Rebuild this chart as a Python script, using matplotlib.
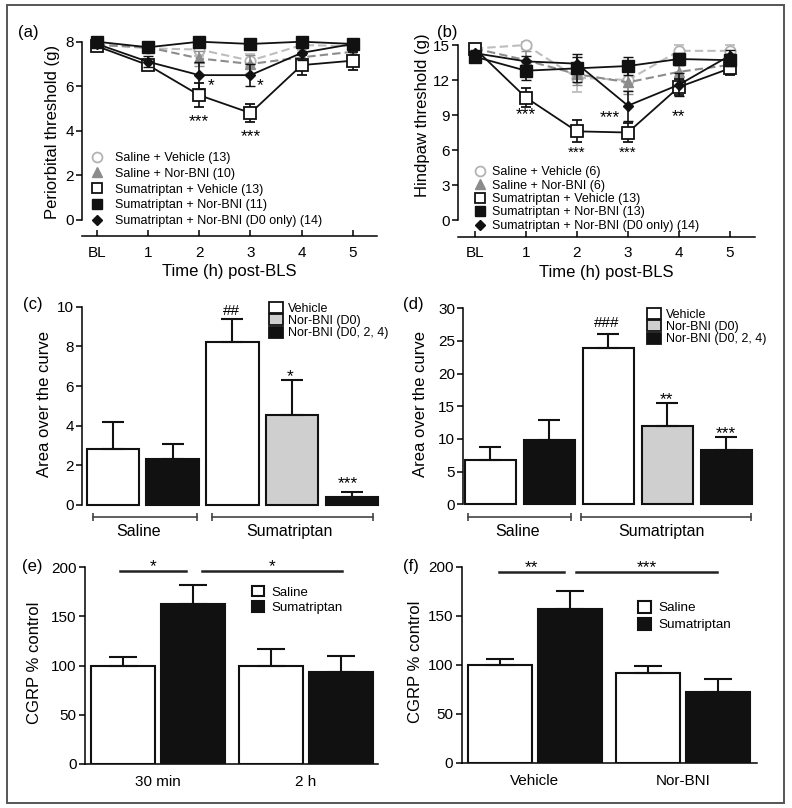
import matplotlib
matplotlib.use('Agg')
import matplotlib.pyplot as plt
from matplotlib.lines import Line2D
from matplotlib.patches import Patch, Rectangle

plt.rcParams['font.family'] = ['Liberation Sans', 'DejaVu Sans']
plt.rcParams['axes.linewidth'] = 1.1

W, H = 792, 808

# ---------------- data ----------------
time_labels = ['BL', '1', '2', '3', '4', '5']
time_x = [0, 1, 2, 3, 4, 5]

a_labels = ['Saline + Vehicle (13)', 'Saline + Nor-BNI (10)', 'Sumatriptan + Vehicle (13)',
            'Sumatriptan + Nor-BNI (11)', 'Sumatriptan + Nor-BNI (D0 only) (14)']
a_sal_veh = [7.9, 7.7, 7.65, 7.15, 7.85, 7.8]
a_sal_veh_err = [0.1, 0.15, 0.3, 0.3, 0.2, 0.2]
a_sal_nor = [7.85, 7.75, 7.25, 7.0, 7.3, 7.55]
a_sal_nor_err = [0.1, 0.2, 0.35, 0.4, 0.25, 0.2]
a_sum_veh = [7.8, 6.95, 5.6, 4.8, 6.95, 7.15]
a_sum_veh_err = [0.15, 0.2, 0.55, 0.4, 0.45, 0.4]
a_sum_nor = [8.0, 7.75, 8.0, 7.9, 8.0, 7.9]
a_sum_nor_err = [0.1, 0.2, 0.1, 0.15, 0.1, 0.15]
a_sum_d0 = [7.9, 7.1, 6.5, 6.5, 7.5, 7.9]
a_sum_d0_err = [0.1, 0.25, 0.6, 0.5, 0.3, 0.2]

b_labels = ['Saline + Vehicle (6)', 'Saline + Nor-BNI (6)', 'Sumatriptan + Vehicle (13)',
            'Sumatriptan + Nor-BNI (13)', 'Sumatriptan + Nor-BNI (D0 only) (14)']
b_sal_veh = [14.7, 15.0, 12.2, 12.0, 14.5, 14.5]
b_sal_veh_err = [0.3, 0.3, 1.2, 0.9, 0.5, 0.5]
b_sal_nor = [14.7, 13.7, 12.5, 11.8, 12.7, 13.3]
b_sal_nor_err = [0.3, 0.8, 0.9, 1.0, 0.6, 0.5]
b_sum_veh = [14.7, 10.5, 7.6, 7.5, 11.4, 13.0]
b_sum_veh_err = [0.3, 0.8, 0.95, 0.8, 0.7, 0.6]
b_sum_nor = [14.0, 12.8, 13.0, 13.2, 13.8, 13.7]
b_sum_nor_err = [0.4, 0.8, 1.2, 0.8, 0.5, 0.5]
b_sum_d0 = [14.3, 13.6, 13.4, 9.8, 11.6, 14.1]
b_sum_d0_err = [0.3, 0.5, 0.6, 1.3, 1.0, 0.5]

aoc_legend = ['Vehicle', 'Nor-BNI (D0)', 'Nor-BNI (D0, 2, 4)']
aoc_groups = ['Saline', 'Sumatriptan']
c_vals = [2.8, 2.3, 8.2, 4.55, 0.42]
c_err = [1.4, 0.8, 1.2, 1.75, 0.23]
d_vals = [6.8, 9.85, 24.0, 12.0, 8.3]
d_err = [1.9, 3.05, 2.0, 3.5, 2.0]

cgrp_legend = ['Saline', 'Sumatriptan']
e_groups = ['30 min', '2 h']
e_saline = [100, 100]
e_saline_err = [8.6, 17]
e_suma = [163, 93]
e_suma_err = [18.7, 16.7]

f_groups = ['Vehicle', 'Nor-BNI']
f_saline = [100, 91.3]
f_saline_err = [5.6, 7.2]
f_suma = [157, 72.3]
f_suma_err = [18, 13.3]

# ---------------- helpers ----------------
fig = plt.figure(figsize=(W / 100, H / 100), dpi=100)
fig.patches.append(Rectangle((7 / W, 1 - 803 / H), 777 / W, 798 / H, transform=fig.transFigure,
                             fill=False, edgecolor='#555555', lw=1.4))


def box(l, r, t, b):
    return [l / W, 1 - b / H, (r - l) / W, (b - t) / H]


def fig_anchor(x, y):
    return (x / W, 1 - y / H)


def mark(ax, x, y, s, fs=12.5, dy=-2.5):
    if '#' in s:
        ax.text(x, y, s, ha='center', va='center', fontsize=11)
    else:
        ax.annotate(s, (x, y), xytext=(0, dy), textcoords='offset points', ha='center',
                    va='center', fontsize=fs, annotation_clip=False)


LW = 1.3
series_styles = [
    dict(color='#bdbdbd', ls=(0, (4, 2)), marker='o', mfc='white', mec='#b3b3b3', ms=7.5, mew=1.3),
    dict(color='#8c8c8c', ls=(0, (4, 2)), marker='^', mfc='#8c8c8c', mec='#8c8c8c', ms=7, mew=1.0),
    dict(color='#111111', ls='-', marker='s', mfc='white', mec='#111111', ms=8, mew=1.3),
    dict(color='#111111', ls='-', marker='s', mfc='#111111', mec='#111111', ms=8, mew=1.0),
    dict(color='#111111', ls='-', marker='D', mfc='#111111', mec='#111111', ms=5, mew=1.0),
]


def line_panel(rect, ylim, yticks, xlim, data, labels, legend_anchor, legend_fs,
               handlelen, textpad, lspacing, ylabel, label_x, label_y):
    ax = fig.add_axes(box(*rect))
    order = [0, 1, 3, 4, 2]
    for i in order:
        vals, errs = data[i]
        st = series_styles[i]
        ax.errorbar(time_x, vals, yerr=errs, color=st['color'], ls=st['ls'], lw=LW if i >= 2 else 1.5,
                    marker=st['marker'], mfc=st['mfc'], mec=st['mec'], ms=st['ms'], mew=st['mew'],
                    ecolor=st['color'] if i < 2 else '#111111', elinewidth=1.2, capsize=3.5, capthick=1.2,
                    clip_on=False, zorder=3 + i)
    ax.set_xlim(*xlim)
    ax.set_ylim(*ylim)
    ax.set_yticks(yticks)
    ax.set_xticks(time_x)
    ax.set_xticklabels(time_labels)
    ax.spines['top'].set_visible(False)
    ax.spines['right'].set_visible(False)
    ax.spines['left'].set_bounds(yticks[0], yticks[-1])
    ax.tick_params(axis='y', direction='out', length=4, width=1.1, pad=2, labelsize=11)
    ax.tick_params(axis='x', direction='in', length=4, width=1.1, pad=7, labelsize=11)
    ax.set_ylabel(ylabel, fontsize=12)
    ax.yaxis.set_label_coords(label_x, label_y)
    ax.set_xlabel('Time (h) post-BLS', fontsize=12, labelpad=3)
    handles = [Line2D([], [], ls='none', marker=s['marker'], mfc=s['mfc'], mec=s['mec'],
                      ms=s['ms'] * 0.95, mew=s['mew']) for s in series_styles]
    ax.legend(handles, labels, loc='upper left', bbox_to_anchor=fig_anchor(*legend_anchor),
              bbox_transform=fig.transFigure, frameon=False, fontsize=legend_fs, borderpad=0,
              borderaxespad=0, handlelength=handlelen, handletextpad=textpad, labelspacing=lspacing)
    return ax


# ---------------- panel (a) ----------------
axa = line_panel((82, 377, 36, 236), (-0.718, 8.256), [0, 2, 4, 6, 8], (-0.29, 5.47),
                 [(a_sal_veh, a_sal_veh_err), (a_sal_nor, a_sal_nor_err), (a_sum_veh, a_sum_veh_err),
                  (a_sum_nor, a_sum_nor_err), (a_sum_d0, a_sum_d0_err)],
                 a_labels, (90.5, 152), 9, 1.0, 0.95, 0.3, 'Periorbital threshold (g)', -0.075, 0.52)
for x, y, s in [(2.24, 6.2, '*'), (3.18, 6.2, '*'), (2.0, 4.56, '***'), (3.0, 3.89, '***')]:
    mark(axa, x, y, s)

# ---------------- panel (b) ----------------
axb = line_panel((458, 755, 40, 236.7), (-1.43, 15.43), [0, 3, 6, 9, 12, 15], (-0.33, 5.49),
                 [(b_sal_veh, b_sal_veh_err), (b_sal_nor, b_sal_nor_err), (b_sum_veh, b_sum_veh_err),
                  (b_sum_nor, b_sum_nor_err), (b_sum_d0, b_sum_d0_err)],
                 b_labels, (475, 166), 9, 0.8, 0.55, 0.12, 'Hindpaw threshold (g)', -0.094, 0.62)
for x, y, s in [(0.99, 9.3, '***'), (2.65, 9.1, '***'), (4.0, 9.2, '**')]:
    mark(axb, x, y, s)
for x, y, s in [(2.0, 5.75, '***'), (3.0, 5.75, '***')]:
    mark(axb, x, y, s, fs=11, dy=0)

# ---------------- bar panels (c), (d) ----------------
bar_colors = ['white', '#111111', 'white', '#cfcfcf', '#111111']


def aoc_panel(rect, vals, errs, ylim, yticks, xlim, width, brackets, br_y, lab_x, lab_y,
              stars, leg_anchor, label_x):
    ax = fig.add_axes(box(*rect))
    xs = list(range(len(vals)))
    bars = ax.bar(xs, vals, width=width, color=bar_colors, edgecolor='#111111', lw=1.5,
                  yerr=[[0] * len(errs), errs], capsize=8,
                  error_kw=dict(elinewidth=1.5, capthick=1.5, ecolor='#111111'), zorder=3)
    for p in bars.patches:
        p.set_clip_on(False)
    ax.set_xlim(*xlim)
    ax.set_ylim(*ylim)
    ax.set_yticks(yticks)
    ax.set_xticks([])
    for s in ['top', 'right', 'bottom']:
        ax.spines[s].set_visible(False)
    ax.tick_params(axis='y', direction='out', length=4, width=1.1, pad=2, labelsize=11)
    ax.set_ylabel('Area over the curve', fontsize=12)
    ax.yaxis.set_label_coords(label_x, 0.51)
    for (x0, x1) in brackets:
        ax.plot([x0, x1], [br_y, br_y], color='#444444', lw=1.2, marker='|', ms=6, mew=1.2,
                clip_on=False)
    for x, txt in zip(lab_x, aoc_groups):
        ax.text(x, lab_y, txt, ha='center', va='center', fontsize=11.5)
    for x, y, s in stars:
        mark(ax, x, y, s)
    handles = [Patch(facecolor=c, edgecolor='#111111', lw=1.3) for c in ['white', '#cfcfcf', '#111111']]
    ax.legend(handles, aoc_legend, loc='upper left', bbox_to_anchor=fig_anchor(*leg_anchor),
              bbox_transform=fig.transFigure, frameon=False, fontsize=9, borderpad=0,
              borderaxespad=0, handlelength=1.1, handleheight=1.0, handletextpad=0.45,
              labelspacing=-0.05)
    return ax


aoc_panel((82, 381.7, 306.7, 505), c_vals, c_err, (0, 10), [0, 2, 4, 6, 8, 10], (-0.52, 4.5), 0.88,
          [(-0.34, 1.41), (1.66, 4.35)], -0.59, [0.42, 2.96], -1.35,
          [(1.99, 9.78, '##'), (2.96, 6.65, '*'), (3.94, 1.23, '***')], (269, 302), -0.10)

aoc_panel((463.3, 753, 308.3, 504.3), d_vals, d_err, (0, 30), [0, 5, 10, 15, 20, 25, 30], (-0.46, 4.45),
          0.86, [(-0.38, 1.36), (1.53, 4.41)], -1.9, [0.46, 2.9], -4.2,
          [(1.97, 27.7, '###'), (2.98, 16.5, '**'), (3.99, 11.4, '***')], (647, 308), -0.122)

# ---------------- bar panels (e), (f) ----------------


def cgrp_panel(rect, groups, sal, sal_err, suma, suma_err, xlim, sig, sig_y, star_y, leg_anchor,
               leg_fs, hl, lsp, label_x):
    ax = fig.add_axes(box(*rect))
    gx = [0, 1]
    off = 0.2356
    wid = 0.432
    ek = dict(elinewidth=1.5, capthick=1.5, ecolor='#111111')
    ax.bar([g - off for g in gx], sal, width=wid, color='white', edgecolor='#111111', lw=1.5,
           yerr=[[0, 0], sal_err], capsize=10, error_kw=ek, zorder=3, label=cgrp_legend[0])
    ax.bar([g + off for g in gx], suma, width=wid, color='#111111', edgecolor='#111111', lw=1.5,
           yerr=[[0, 0], suma_err], capsize=10, error_kw=ek, zorder=3, label=cgrp_legend[1])
    ax.set_xlim(*xlim)
    ax.set_ylim(0, 200)
    ax.set_yticks([0, 50, 100, 150, 200])
    ax.set_xticks(gx)
    ax.set_xticklabels(groups)
    for s in ['top', 'right']:
        ax.spines[s].set_visible(False)
    ax.tick_params(axis='y', direction='out', length=4, width=1.1, pad=2, labelsize=11)
    ax.tick_params(axis='x', length=0, pad=8, labelsize=11)
    ax.set_ylabel('CGRP % control', fontsize=12)
    ax.yaxis.set_label_coords(label_x, 0.515)
    for (x0, x1, s) in sig:
        ax.plot([x0, x1], [sig_y, sig_y], color='#222222', lw=1.8, clip_on=False)
        mark(ax, (x0 + x1) / 2, star_y, s)
    ax.legend(loc='upper left', bbox_to_anchor=fig_anchor(*leg_anchor), bbox_transform=fig.transFigure,
              frameon=False, fontsize=leg_fs, borderpad=0, borderaxespad=0, handlelength=hl,
              handleheight=hl, handletextpad=0.55, labelspacing=lsp)
    return ax


cgrp_panel((85, 378.3, 567.3, 763.7), e_groups, e_saline, e_saline_err, e_suma, e_suma_err,
           (-0.495, 1.489), [(-0.258, 0.186, '*'), (0.294, 1.241, '*')], 196.6, 204,
           (252, 585.5), 9.5, 0.9, 0.2, -0.147)

cgrp_panel((461.7, 756.7, 566.7, 763), f_groups, f_saline, f_saline_err, f_suma, f_suma_err,
           (-0.495, 1.50), [(-0.24, 0.198, '**'), (0.28, 1.23, '***')], 194.3, 202.7,
           (638, 600.5), 9.7, 1.0, 0.26, -0.131)

# ---------------- panel labels ----------------
for x, y, t in [(18, 33, '(a)'), (437, 32, '(b)'), (23, 304, '(c)'), (403, 304, '(d)'),
                (22, 566, '(e)'), (403, 566, '(f)')]:
    fig.text(x / W, 1 - y / H, t, ha='left', va='center', fontsize=12)

fig.savefig('out.png', dpi=100)
